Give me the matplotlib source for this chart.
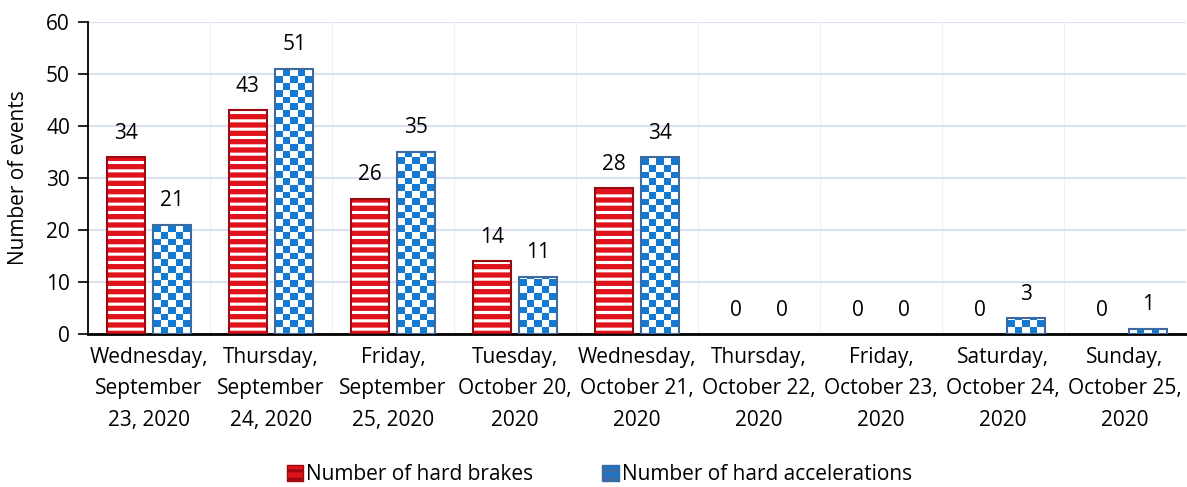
import matplotlib
matplotlib.use("Agg")
import matplotlib.pyplot as plt
from matplotlib.patches import Patch
import numpy as np

plt.rcParams['font.family'] = ['Open Sans', 'DejaVu Sans']
plt.rcParams['hatch.linewidth'] = 2.2

days = [
    "Wednesday,\nSeptember\n23, 2020",
    "Thursday,\nSeptember\n24, 2020",
    "Friday,\nSeptember\n25, 2020",
    "Tuesday,\nOctober 20,\n2020",
    "Wednesday,\nOctober 21,\n2020",
    "Thursday,\nOctober 22,\n2020",
    "Friday,\nOctober 23,\n2020",
    "Saturday,\nOctober 24,\n2020",
    "Sunday,\nOctober 25,\n2020",
]
hard_brakes = [34, 43, 26, 14, 28, 0, 0, 0, 0]
hard_accel = [21, 51, 35, 11, 34, 0, 0, 3, 1]
y_ticks = [0, 10, 20, 30, 40, 50, 60]

red = "#e0131c"
red_edge = "#9c0a10"
blue = "#1479d0"
blue_edge = "#3d6aa0"
fs = 15

fig = plt.figure(figsize=(11.87, 4.87), dpi=100)
ax = fig.add_axes([0.0741, 0.314, 0.9251, 0.641])

x = np.arange(len(days))
w = 0.31
off = 0.19

# red bars, white horizontal stripes
ax.bar(x - off, hard_brakes, w, color=red, edgecolor="white", hatch="--",
       linewidth=0, zorder=3)
e1 = ax.bar(x - off, hard_brakes, w, fill=False, edgecolor=red_edge, linewidth=1.5, zorder=4)

# blue bars, checkerboard fill
b2 = ax.bar(x + off, hard_accel, w, color="white", linewidth=0, zorder=3)
e2 = ax.bar(x + off, hard_accel, w, fill=False, edgecolor=blue_edge, linewidth=1.5, zorder=4)
cell = 1.3
checker = np.indices((200, 5)).sum(axis=0) % 2
cmap = matplotlib.colors.ListedColormap(["white", blue])
for p in b2:
    h = p.get_height()
    if h <= 0:
        continue
    x0 = p.get_x()
    nrows = max(1, int(np.ceil(h / cell)))
    im = ax.imshow(checker[:nrows], cmap=cmap,
                   extent=(x0, x0 + p.get_width(), 0, nrows * cell), aspect="auto",
                   interpolation="nearest", origin="lower", zorder=3.5)
    im.set_clip_path(p)

# no outline for empty bars
for p in list(e1) + list(e2):
    if p.get_height() == 0:
        p.set_visible(False)

# value labels
for xi, v in zip(x, hard_brakes):
    ax.text(xi - off, v + 2.6, str(v), ha="center", va="bottom", fontsize=fs)
for xi, v in zip(x, hard_accel):
    ax.text(xi + off, v + 2.6, str(v), ha="center", va="bottom", fontsize=fs)

ax.set_xlim(-0.5, len(days) - 0.5)
ax.set_ylim(0, 60)
ax.set_yticks(y_ticks)
ax.set_xticks(x)
ax.set_xticklabels(days, fontsize=fs, linespacing=1.68)
ax.tick_params(axis="x", length=0, pad=9)
ax.tick_params(axis="y", labelsize=fs, length=7, width=1.2, direction="out", pad=6)
ax.set_ylabel("Number of events", fontsize=fs, labelpad=12)

ax.yaxis.grid(True, color="#d9e1f2", linewidth=1.5, zorder=0)
for b in np.arange(0.5, len(days) - 0.5):
    ax.axvline(b, color="#f0f0f0", linewidth=0.8, zorder=0)
ax.set_axisbelow(True)

for s in ["top", "right"]:
    ax.spines[s].set_visible(False)
ax.spines["left"].set_linewidth(1.3)
ax.spines["bottom"].set_linewidth(2)

h1 = Patch(facecolor=red, edgecolor=red_edge, hatch="--")
h2 = Patch(facecolor=blue, edgecolor=blue_edge, hatch="++")
fig.legend([h1, h2], ["Number of hard brakes", "Number of hard accelerations"],
           loc="lower center", bbox_to_anchor=(0.505, -0.035), ncol=2, frameon=False,
           fontsize=fs, handlelength=0.8, handleheight=0.8, handletextpad=0.15,
           columnspacing=3.3)

fig.savefig("out.png", dpi=100)
